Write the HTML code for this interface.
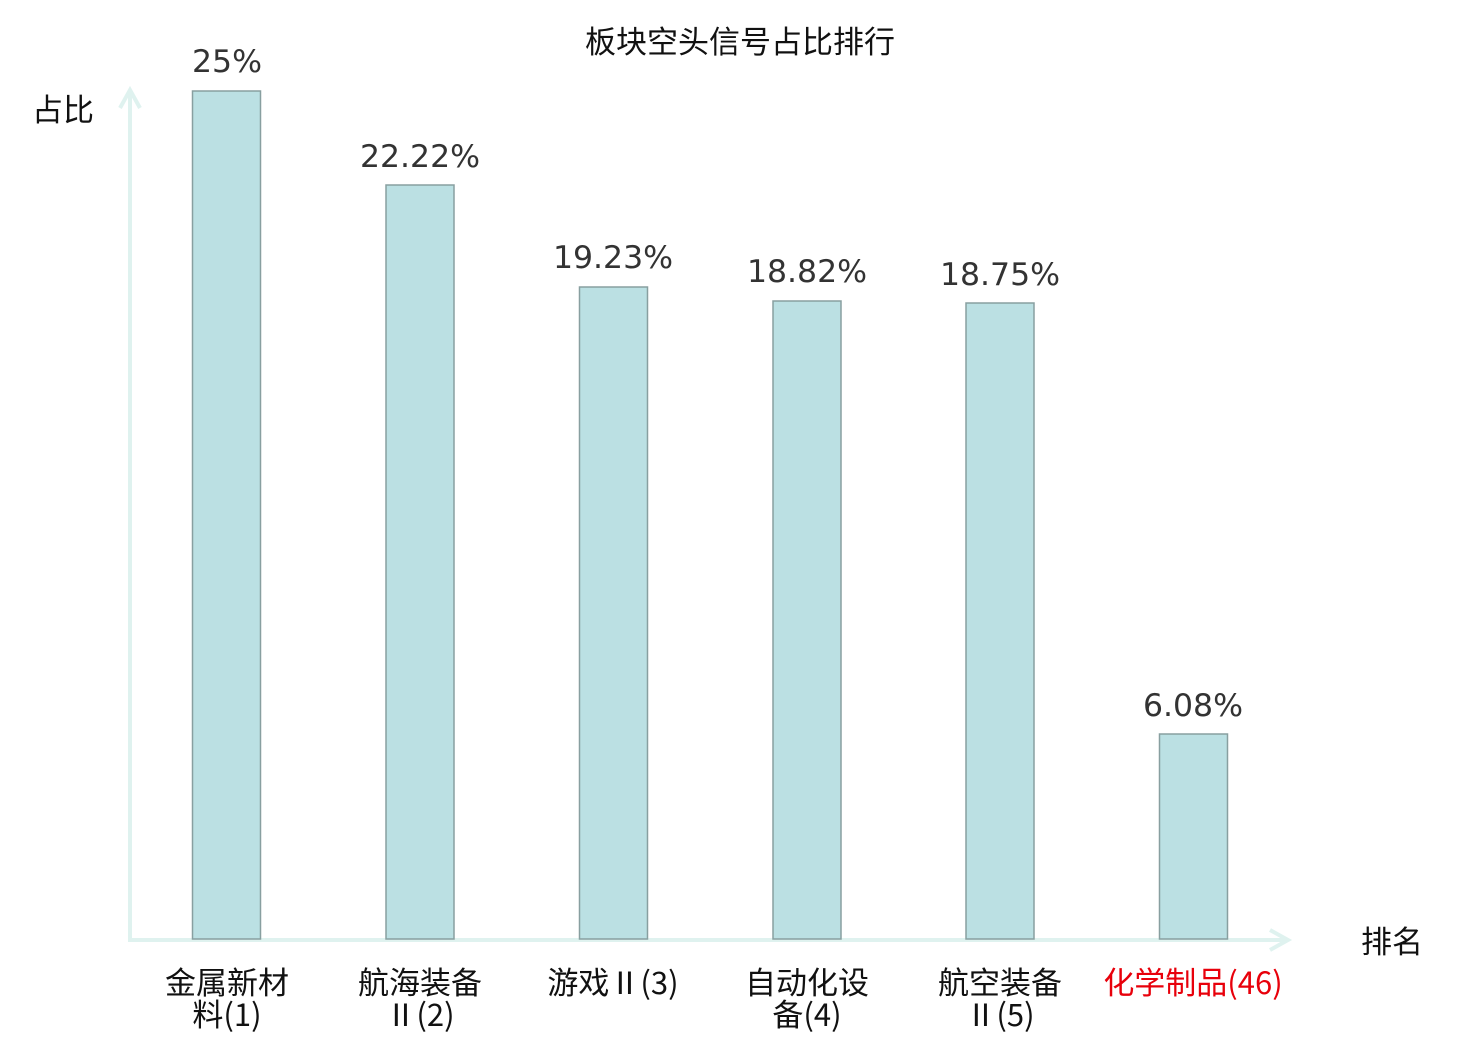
<!DOCTYPE html>
<html><head><meta charset="utf-8"><style>
body{margin:0;background:#fff;}
svg text{font-family:"DejaVu Sans","Noto Sans CJK SC",sans-serif;}
svg text.c{font-family:"Noto Sans CJK SC",sans-serif;}
</style></head><body>
<svg width="1480" height="1040" xmlns="http://www.w3.org/2000/svg">
<text x="740" y="53" font-size="31" text-anchor="middle" fill="#111">板块空头信号占比排行</text>
<text x="63" y="121" font-size="31" text-anchor="middle" fill="#111">占比</text>
<text x="1392" y="953" font-size="31" text-anchor="middle" fill="#111">排名</text>
<g stroke="#dff2ef" stroke-width="4" fill="none">
<line x1="130" y1="90" x2="130" y2="940"/>
<line x1="128" y1="940" x2="1288" y2="940"/>
<polyline points="120,108 130,90 140,108"/>
<polyline points="1270,930 1288,940 1270,950"/>
</g>
<g fill="#bbe0e3" stroke="#889fa0" stroke-width="1.5">
<rect x="192.5" y="91" width="68" height="848"/>
<rect x="386" y="185" width="68" height="754"/>
<rect x="579.5" y="287" width="68" height="652"/>
<rect x="773" y="301" width="68" height="638"/>
<rect x="966" y="303" width="68" height="636"/>
<rect x="1159.5" y="734" width="68" height="205"/>
</g>
<g font-size="31.5" text-anchor="middle" fill="#333">
<text x="227" y="72">25%</text>
<text x="420" y="167">22.22%</text>
<text x="613" y="268">19.23%</text>
<text x="807" y="282">18.82%</text>
<text x="1000" y="285">18.75%</text>
<text x="1193" y="716">6.08%</text>
</g>
<g font-size="31" text-anchor="middle" fill="#111">
<text class="c" x="227" y="994">金属新材</text><text class="c" x="227" y="1026">料(1)</text>
<text class="c" x="420" y="994">航海装备</text><text class="c" x="420" y="1026">Ⅱ(2)</text>
<text class="c" x="613" y="994">游戏Ⅱ(3)</text>
<text class="c" x="807" y="994">自动化设</text><text class="c" x="807" y="1026">备(4)</text>
<text class="c" x="1000" y="994">航空装备</text><text class="c" x="1000" y="1026">Ⅱ(5)</text>
<text class="c" x="1193" y="994" fill="#e8000b">化学制品(46)</text>
</g>
</svg>
</body></html>
